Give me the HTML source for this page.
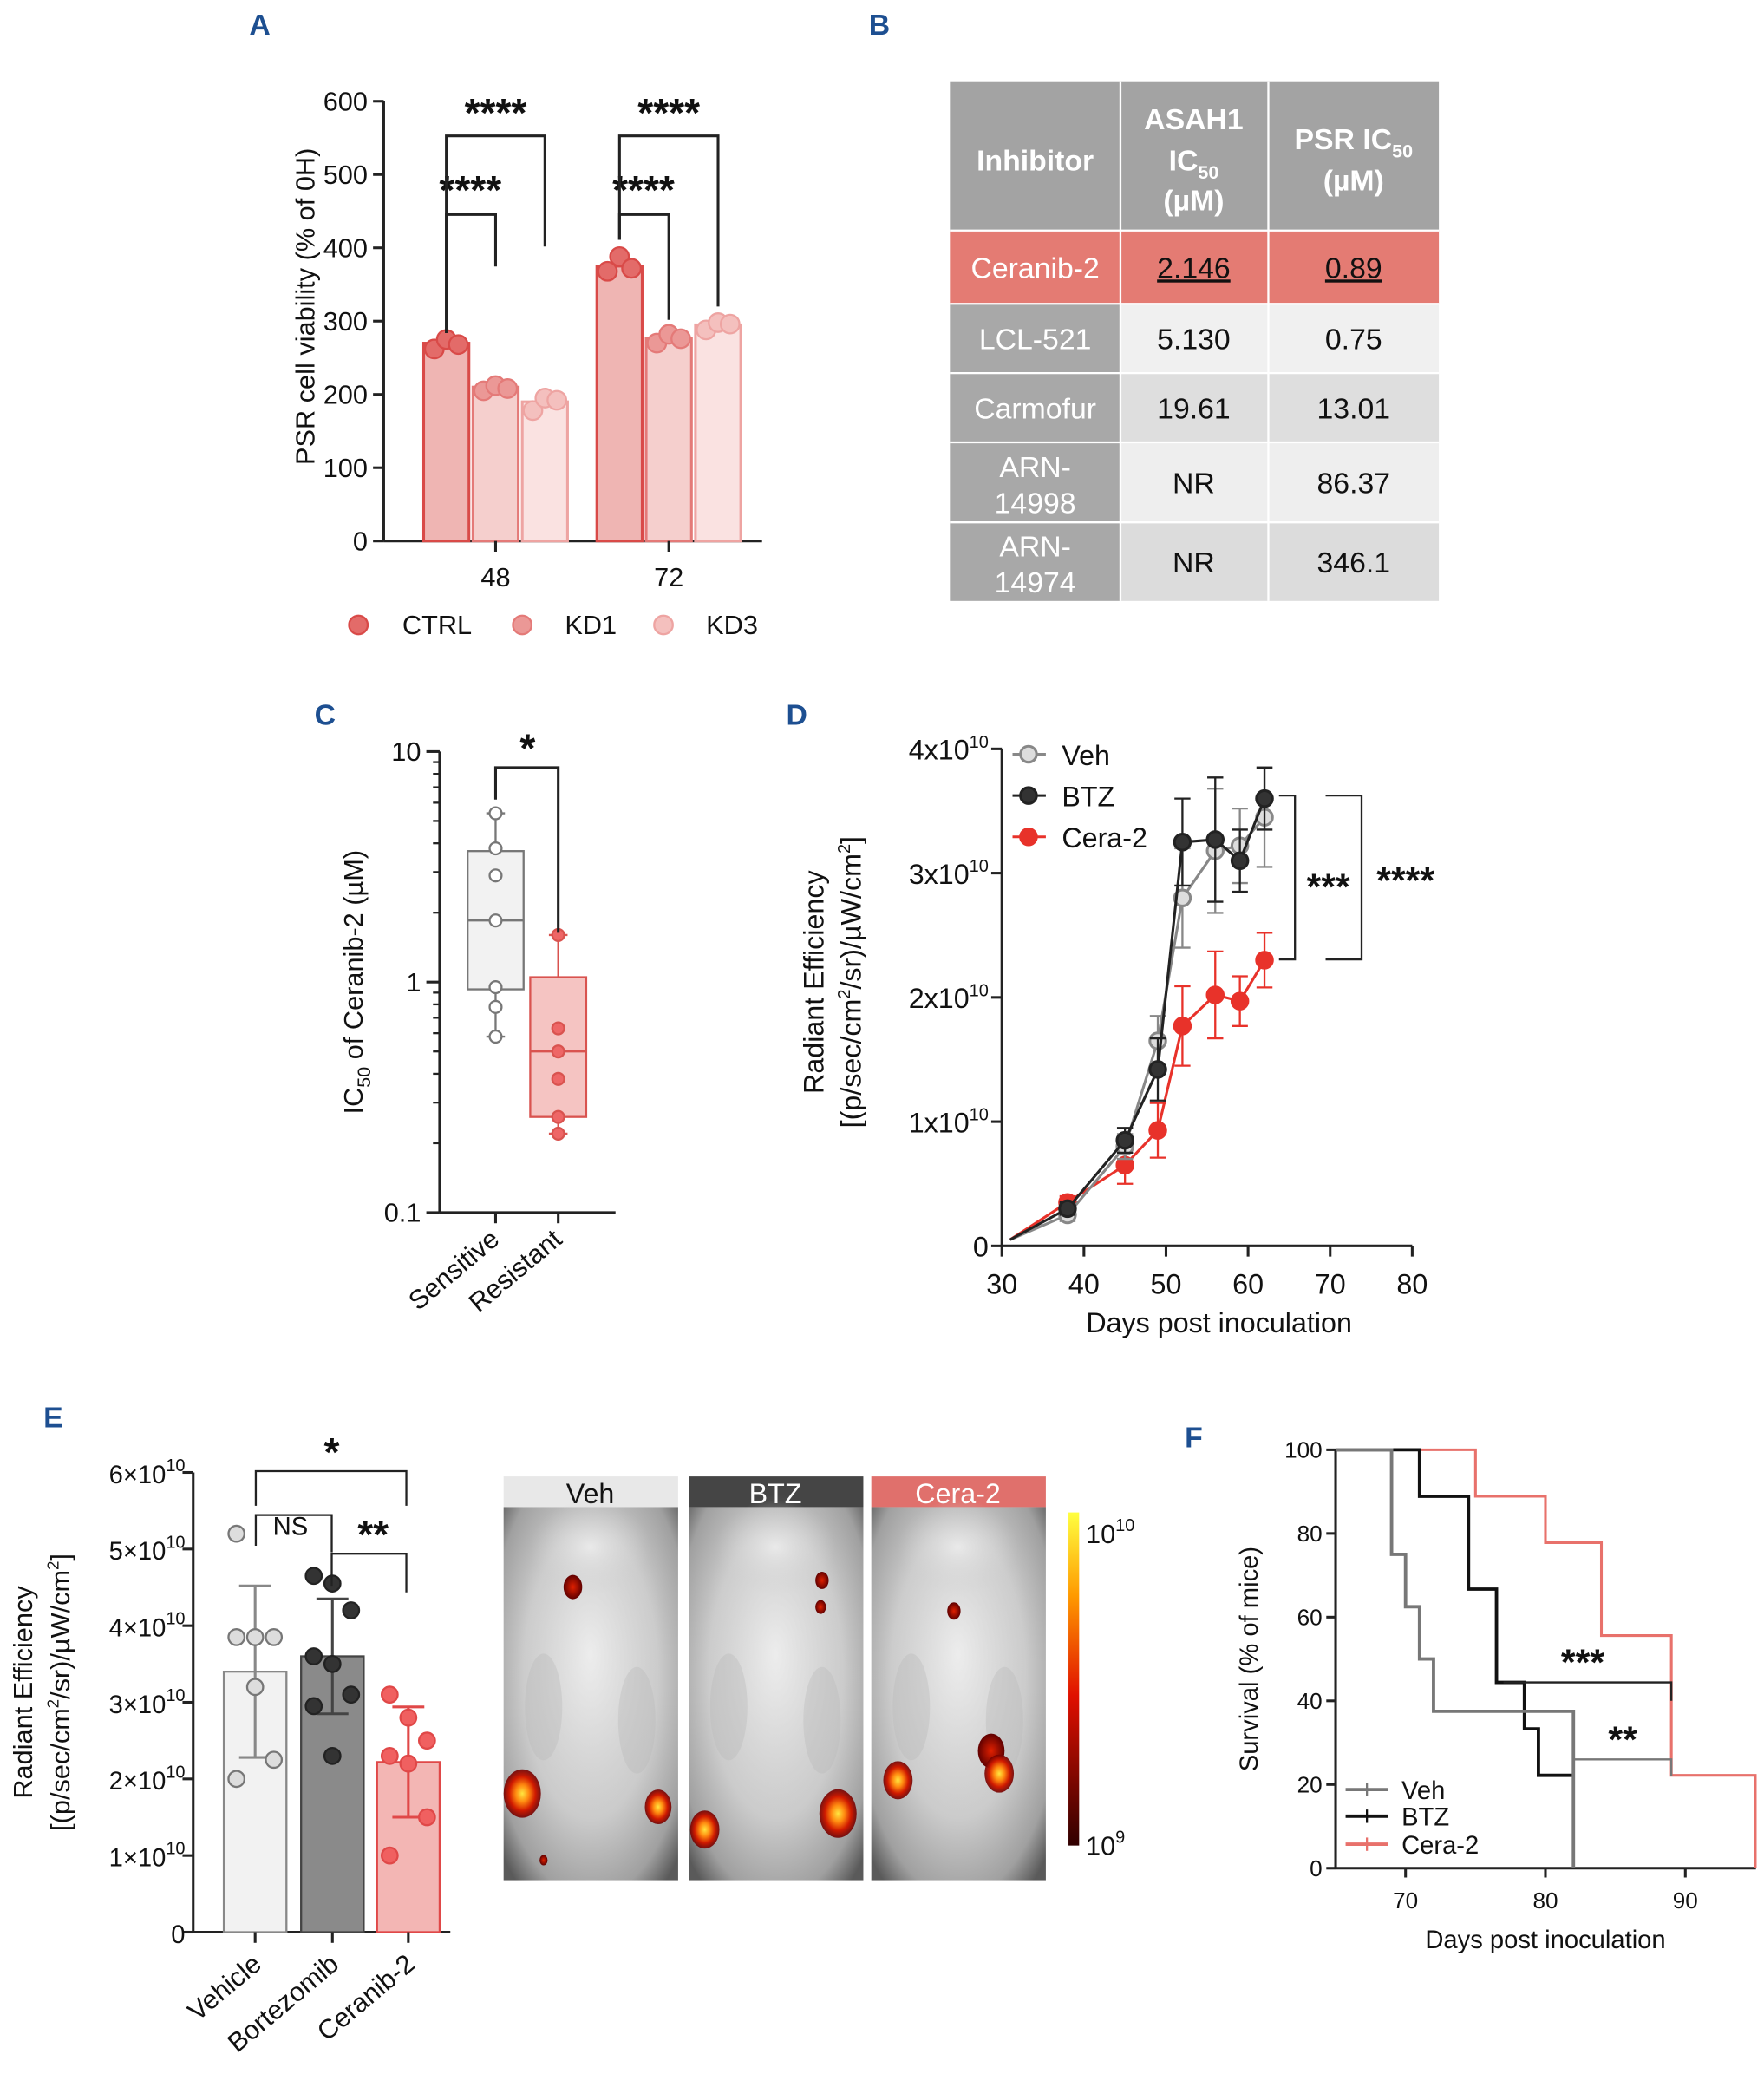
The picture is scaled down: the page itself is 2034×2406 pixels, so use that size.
<!DOCTYPE html>
<html><head><meta charset="utf-8">
<style>
html,body{margin:0;padding:0;background:#fff;width:2034px;height:2405px;overflow:hidden}
#wrap{position:absolute;left:0;top:0;width:1324px;height:1566px;transform:scale(1.5362);transform-origin:0 0;font-family:"Liberation Sans",Arial,sans-serif}
svg{position:absolute;left:0;top:0}
text{font-family:"Liberation Sans",Arial,sans-serif}
</style></head>
<body>
<div id="wrap">
<svg id="s" width="1324" height="1566" viewBox="0 0 1324 1566">
<defs>
<radialGradient id="mouse" cx="50%" cy="45%" r="70%"><stop offset="0" stop-color="#e2e2e2"/><stop offset="0.55" stop-color="#cbcbcb"/><stop offset="0.85" stop-color="#a0a0a0"/><stop offset="1" stop-color="#5a5a5a"/></radialGradient>
<radialGradient id="body"><stop offset="0" stop-color="#f0f0f0" stop-opacity="0.8"/><stop offset="1" stop-color="#d0d0d0" stop-opacity="0"/></radialGradient>
<radialGradient id="hot"><stop offset="0" stop-color="#ffe640"/><stop offset="0.35" stop-color="#ff8a10"/><stop offset="0.7" stop-color="#d01a00"/><stop offset="1" stop-color="#700000" stop-opacity="0.9"/></radialGradient>
<radialGradient id="warm"><stop offset="0" stop-color="#e02000"/><stop offset="1" stop-color="#600000"/></radialGradient>
<linearGradient id="cbar" x1="0" y1="0" x2="0" y2="1"><stop offset="0" stop-color="#ffff40"/><stop offset="0.25" stop-color="#ff9a00"/><stop offset="0.55" stop-color="#e01000"/><stop offset="1" stop-color="#300000"/></linearGradient>
</defs>
</svg>
</div>
<script>
// ---------- DATA ----------
const aGroups=["48","72"];
const aSeries=["CTRL","KD1","KD3"];
const aMeans=[[270,210,190],[375,277,295]];
const aPoints=[[[262,275,268],[205,212,208],[178,195,192]],[[368,388,372],[270,282,276],[288,298,296]]];
const aTicks=[0,100,200,300,400,500,600];

const cGroups=["Sensitive","Resistant"];
const cSens=[5.4,3.8,2.9,1.85,0.95,0.78,0.58];
const cRes=[1.6,0.63,0.5,0.38,0.26,0.22];
const cBox=[[0.58,0.93,1.85,3.7,5.4],[0.22,0.26,0.5,1.05,1.6]];
const cTicks=[0.1,1,10];

const dDays=[31,38,45,49,52,56,59,62];
const dVeh=[0.05,0.25,0.8,1.65,2.8,3.18,3.22,3.45];
const dVehErr=[0,0.05,0.1,0.2,0.4,0.5,0.3,0.4];
const dBtz=[0.05,0.3,0.85,1.42,3.25,3.27,3.1,3.6];
const dBtzErr=[0,0.05,0.1,0.25,0.35,0.5,0.25,0.25];
const dCera=[0.05,0.35,0.65,0.93,1.77,2.02,1.97,2.3];
const dCeraErr=[0,0.05,0.15,0.22,0.32,0.35,0.2,0.22];
const dXTicks=[30,40,50,60,70,80];
const dYTicks=[0,1,2,3,4];

const eGroups=["Vehicle","Bortezomib","Ceranib-2"];
const eMeans=[3.4,3.6,2.22];
const eSd=[1.12,0.75,0.72];
const ePoints=[[5.2,3.85,3.85,3.85,3.2,2.25,2.0],[4.65,4.55,4.2,3.6,3.5,3.1,2.95,2.3],[3.1,2.8,2.5,2.3,2.2,1.5,1.0]];
const eYTicks=[0,1,2,3,4,5,6];

const fXTicks=[70,80,90];
const fYTicks=[0,20,40,60,80,100];
const fVehT=[65,69,70,71,72,82];
const fVehS=[100,75,62.5,50,37.5,0];
const fBtzT=[65,71,74.5,76.5,78.5,79.5,82];
const fBtzS=[100,88.9,66.7,44.4,33.3,22.2,22.2];
const fCeraT=[65,75,80,84,89,95];
const fCeraS=[100,88.9,77.8,55.6,22.2,0];

// ---------- HELPERS ----------
const S=document.getElementById('s');
const NS='http://www.w3.org/2000/svg';
function mk(t,a,parent){const e=document.createElementNS(NS,t);for(const k in a)e.setAttribute(k,a[k]);(parent||S).appendChild(e);return e;}
function tag(e,n){
  
  
  return e;}
function txt(x,y,s,o){o=o||{};const e=mk('text',{x:x,y:y,'font-size':o.fs||20,'text-anchor':o.a||'middle',fill:o.fill||'#111','font-weight':o.fw||'normal'});if(o.tr)e.setAttribute('transform',o.tr);e.innerHTML=s;return e;}
function line(x1,y1,x2,y2,c,w){return mk('line',{x1:x1,y1:y1,x2:x2,y2:y2,stroke:c||'#222','stroke-width':w||2});}
function path(d,c,w,f){return mk('path',{d:d,stroke:c||'#222','stroke-width':w||2,fill:f||'none'});}
function sup(b,e,fs){return b+'<tspan dy="-9" font-size="'+(fs||13)+'">'+e+'</tspan>';}

// ---------- PANEL LETTERS ----------
[["A",195,26],["B",660,26],["C",244,544],["D",598,544],["E",40,1071],["F",896,1086]].forEach(l=>{
  const t=txt(l[1],l[2],l[0],{fs:22,fw:'bold',fill:'#1d4f91'});
  tag(t,'panel-label-'+l[0].toLowerCase());
});

// ---------- PANEL A ----------
{
 const ax0=288, y0=406, ppu=0.55;
 const ya=v=>y0-v*ppu;
 const barX=[[318,355,392],[448,485,522]], bw=34;
 const fills=['#efb5b3','#f5cfcd','#fae2e1'], strokes=['#d94a48','#e47a78','#eea4a2'], dots=['#e36b69','#eb9896','#f4c0be'];
 tag(line(ax0,76,ax0,y0),'a-y-axis');
 tag(line(ax0,y0,572,y0),'a-x-axis');
 aTicks.forEach(t=>{tag(line(ax0-8,ya(t),ax0,ya(t)),'a-y-tick');tag(txt(ax0-12,ya(t)+7,t,{a:'end'}),'a-y-tick-label');});
 tag(txt(236,230,'PSR cell viability (% of 0H)',{tr:'rotate(-90 236 230)'}),'a-y-axis-title');
 aGroups.forEach((g,gi)=>{
  aSeries.forEach((s,si)=>{
   const x=barX[gi][si];
   const b=mk('rect',{x:x,y:ya(aMeans[gi][si]),width:bw,height:aMeans[gi][si]*ppu,fill:fills[si],stroke:strokes[si],'stroke-width':2});
   tag(b,'a-bar-'+s.toLowerCase()+'-'+g);
   aPoints[gi][si].forEach((p,pi)=>{const c=mk('circle',{cx:x+8+pi*9,cy:ya(p),r:7,fill:dots[si],stroke:strokes[si],'stroke-width':1.5});tag(c,'a-point');});
  });
  tag(line(barX[gi][1]+17,y0,barX[gi][1]+17,y0+8),'a-x-tick');
  tag(txt(barX[gi][1]+17,y0+34,g),'a-x-tick-label');
 });
 tag(path('M335 250 V161 H372 V200'),'a-sig-bracket');tag(txt(353,153,'****',{fs:30,fw:'bold'}),'a-sig-stars');
 tag(path('M335 250 V102 H409 V185'),'a-sig-bracket');tag(txt(372,95,'****',{fs:30,fw:'bold'}),'a-sig-stars');
 tag(path('M465 180 V161 H502 V240'),'a-sig-bracket');tag(txt(483,153,'****',{fs:30,fw:'bold'}),'a-sig-stars');
 tag(path('M465 180 V102 H539 V230'),'a-sig-bracket');tag(txt(502,95,'****',{fs:30,fw:'bold'}),'a-sig-stars');
 [[269,302],[392,424],[498,530]].forEach((l,i)=>{
  tag(mk('circle',{cx:l[0],cy:469,r:7,fill:dots[i],stroke:strokes[i],'stroke-width':1.5}),'a-legend-marker-'+aSeries[i].toLowerCase());
  tag(txt(l[1],476,aSeries[i],{a:'start'}),'a-legend-label-'+aSeries[i].toLowerCase());
 });
}

// ---------- PANEL B (table) ----------
{
 const rows=[61,173,228,280,332,392,451];
 const data=[["Ceranib-2","<tspan text-decoration='underline'>2.146</tspan>","<tspan text-decoration='underline'>0.89</tspan>"],["LCL-521","5.130","0.75"],["Carmofur","19.61","13.01"],["ARN-|14998","NR","86.37"],["ARN-|14974","NR","346.1"]];
 const bgs=['#f0f0f0','#dedede','#eeeeee','#dcdcdc'];
 tag(mk('rect',{x:713,y:61,width:367,height:112,fill:'#a3a3a3'}),'b-table-header');
 tag(txt(777,128,'Inhibitor',{fill:'#fff',fw:'bold',fs:22}),'b-header-inhibitor');
 tag(txt(896,97,'ASAH1',{fill:'#fff',fw:'bold',fs:22}),'b-header-asah1');
 tag(txt(896,128,'IC<tspan font-size="14" dy="6">50</tspan>',{fill:'#fff',fw:'bold',fs:22}),'b-header-asah1-ic50');
 tag(txt(896,158,'(µM)',{fill:'#fff',fw:'bold',fs:22}),'b-header-asah1-unit');
 tag(txt(1016,112,'PSR IC<tspan font-size="14" dy="6">50</tspan>',{fill:'#fff',fw:'bold',fs:22}),'b-header-psr');
 tag(txt(1016,143,'(µM)',{fill:'#fff',fw:'bold',fs:22}),'b-header-psr-unit');
 data.forEach((r,i)=>{
  const y1=rows[i+1],y2=rows[i+2],ym=(y1+y2)/2;
  if(i===0){tag(mk('rect',{x:713,y:y1,width:367,height:y2-y1,fill:'#e47b73'}),'b-row-highlight');}
  else{
   tag(mk('rect',{x:713,y:y1,width:128,height:y2-y1,fill:'#a8a8a8'}),'b-row-name-cell');
   tag(mk('rect',{x:841,y:y1,width:239,height:y2-y1,fill:bgs[i-1]}),'b-row-value-cell');
  }
  const nm=r[0].split('|');
  if(nm.length===1) tag(txt(777,ym+8,nm[0],{fill:'#fff',fs:22}),'b-inhibitor-name');
  else {tag(txt(777,ym-4,nm[0],{fill:'#fff',fs:22}),'b-inhibitor-name');tag(txt(777,ym+23,nm[1],{fill:'#fff',fs:22}),'b-inhibitor-name');}
  tag(txt(896,ym+8,r[1],{fs:22}),'b-asah1-value');
  tag(txt(1016,ym+8,r[2],{fs:22}),'b-psr-value');
 });
 for(let i=1;i<rows.length-1;i++) tag(line(713,rows[i],1080,rows[i],'#fff',1.5),'b-row-divider');
 tag(line(841,61,841,451,'#fff',1.5),'b-col-divider');tag(line(952,61,952,451,'#fff',1.5),'b-col-divider');
}

// ---------- PANEL C ----------
{
 const ax0=330,yTop=564,yBot=910;
 const yc=v=>yBot-(Math.log10(v)+1)/2*(yBot-yTop);
 tag(line(ax0,yTop,ax0,yBot),'c-y-axis');tag(line(ax0,yBot,462,yBot),'c-x-axis');
 cTicks.forEach(t=>{tag(line(ax0-10,yc(t),ax0,yc(t)),'c-y-tick');tag(txt(ax0-14,yc(t)+7,t,{a:'end'}),'c-y-tick-label');});
 [2,3,4,5,6,7,8,9,20,30,40,50,60,70,80,90].forEach(m=>{const v=m/10;tag(line(ax0-5,yc(v),ax0,yc(v),'#222',1.5),'c-minor-tick');});
 tag(txt(272,737,'IC<tspan font-size="14" dy="6">50</tspan><tspan dy="-6"> of Ceranib-2 (µM)</tspan>',{tr:'rotate(-90 272 737)'}),'c-y-axis-title');
 const cx=[372,419], cols=[['#f2f2f2','#777','#fff'],['#f5c4c2','#d9534f','#e66']];
 const pts=[cSens,cRes];
 cGroups.forEach((g,i)=>{
  const b=cBox[i],x=cx[i];
  tag(line(x,yc(b[0]),x,yc(b[4]),cols[i][1],1.5),'c-whisker');
  tag(line(x-7,yc(b[0]),x+7,yc(b[0]),cols[i][1],1.5),'c-whisker-cap');
  tag(line(x-7,yc(b[4]),x+7,yc(b[4]),cols[i][1],1.5),'c-whisker-cap');
  tag(mk('rect',{x:x-21,y:yc(b[3]),width:42,height:yc(b[1])-yc(b[3]),fill:cols[i][0],stroke:cols[i][1],'stroke-width':1.5}),'c-box-'+g.toLowerCase());
  tag(line(x-21,yc(b[2]),x+21,yc(b[2]),cols[i][1],1.5),'c-median');
  pts[i].forEach(p=>tag(mk('circle',{cx:x,cy:yc(p),r:4.5,fill:cols[i][2],stroke:cols[i][1],'stroke-width':1.5}),'c-point'));
  tag(line(x,yBot,x,yBot+8),'c-x-tick');
  tag(txt(x+4,yBot+22,g,{a:'end',tr:'rotate(-40 '+(x+4)+' '+(yBot+22)+')'}),'c-x-tick-label');
 });
 tag(path('M372 600 V576 H419 V700'),'c-sig-bracket');tag(txt(396,572,'*',{fs:30,fw:'bold'}),'c-sig-star');
}

// ---------- PANEL D ----------
{
 const x0=752,xs=6.16,y0=935,ys=93.25;
 const xd=d=>x0+(d-30)*xs, yd=v=>y0-v*ys;
 tag(line(x0,562,x0,y0),'d-y-axis');tag(line(x0,y0,1060,y0),'d-x-axis');
 dYTicks.forEach(t=>{tag(line(x0-8,yd(t),x0,yd(t)),'d-y-tick');tag(txt(x0-10,yd(t)+8,t===0?'0':sup(t+'x10','10'),{a:'end',fs:21}),'d-y-tick-label');});
 dXTicks.forEach(t=>{tag(line(xd(t),y0,xd(t),y0+8),'d-x-tick');tag(txt(xd(t),y0+36,t,{fs:21}),'d-x-tick-label');});
 tag(txt(915,1000,'Days post inoculation',{fs:21}),'d-x-axis-title');
 tag(txt(618,737,'Radiant Efficiency',{fs:21,tr:'rotate(-90 618 737)'}),'d-y-axis-title');
 tag(txt(646,737,'[(p/sec/cm<tspan dy="-8" font-size="13">2</tspan><tspan dy="8">/sr)/µW/cm</tspan><tspan dy="-8" font-size="13">2</tspan><tspan dy="8">]</tspan>',{fs:21,tr:'rotate(-90 646 737)'}),'d-y-axis-title-units');
 const ser=[[dCera,dCeraErr,'#e8322a','#e8322a','cera'],[dVeh,dVehErr,'#888','#ddd','veh'],[dBtz,dBtzErr,'#222','#333','btz']];
 ser.forEach(s=>{
  s[0].forEach((v,i)=>{if(s[1][i]>0){const x=xd(dDays[i]);tag(line(x,yd(v-s[1][i]),x,yd(v+s[1][i]),s[2],1.5),'d-error-bar');tag(line(x-6,yd(v+s[1][i]),x+6,yd(v+s[1][i]),s[2],1.5),'d-error-cap');tag(line(x-6,yd(v-s[1][i]),x+6,yd(v-s[1][i]),s[2],1.5),'d-error-cap');}});
  tag(path(s[0].map((v,i)=>(i?'L':'M')+xd(dDays[i])+' '+yd(v)).join(' '),s[2],2),'d-line-'+s[4]);
  s[0].forEach((v,i)=>{if(i>0)tag(mk('circle',{cx:xd(dDays[i]),cy:yd(v),r:6,fill:s[3],stroke:s[2],'stroke-width':2}),'d-point-'+s[4]);});
 });
 [['Veh',566,'#888','#ddd'],['BTZ',597,'#222','#333'],['Cera-2',628,'#e8322a','#e8322a']].forEach(l=>{
  tag(line(760,l[1],785,l[1],l[2],2),'d-legend-line');
  tag(mk('circle',{cx:772,cy:l[1],r:6,fill:l[3],stroke:l[2],'stroke-width':2}),'d-legend-marker');
  tag(txt(797,l[1]+8,l[0],{a:'start',fs:21}),'d-legend-label-'+l[0].toLowerCase());
 });
 tag(path('M960 597 H972 V720 H960',"#222",1.5),'d-sig-bracket');tag(txt(997,675,'***',{fs:28,fw:'bold'}),'d-sig-stars');
 tag(path('M995 597 H1022 V720 H995',"#222",1.5),'d-sig-bracket');tag(txt(1055,670,'****',{fs:28,fw:'bold'}),'d-sig-stars');
}

// ---------- PANEL E ----------
{
 const x0=145,y0=1450,ys=57.5;
 const ye=v=>y0-v*ys;
 tag(line(x0,1105,x0,y0),'e-y-axis');tag(line(x0,y0,338,y0),'e-x-axis');
 eYTicks.forEach(t=>{tag(line(x0-8,ye(t),x0,ye(t)),'e-y-tick');tag(txt(x0-6,ye(t)+8,t===0?'0':sup(t+'×10','10'),{a:'end',fs:19}),'e-y-tick-label');});
 tag(txt(24,1270,'Radiant Efficiency',{fs:20,tr:'rotate(-90 24 1270)'}),'e-y-axis-title');
 tag(txt(52,1270,'[(p/sec/cm<tspan dy="-8" font-size="12">2</tspan><tspan dy="8">/sr)/µW/cm</tspan><tspan dy="-8" font-size="12">2</tspan><tspan dy="8">]</tspan>',{fs:20,tr:'rotate(-90 52 1270)'}),'e-y-axis-title-units');
 const bx=[168,226,283],bw=47;
 const st=[['#f2f2f2','#888','#ddd','#777'],['#8a8a8a','#444','#333','#222'],['#f3b6b4','#e04848','#f06060','#e04848']];
 eGroups.forEach((g,i)=>{
  const cx=bx[i]+bw/2;
  tag(mk('rect',{x:bx[i],y:ye(eMeans[i]),width:bw,height:eMeans[i]*ys,fill:st[i][0],stroke:st[i][1],'stroke-width':1.5}),'e-bar-'+g.toLowerCase());
  tag(line(cx,ye(eMeans[i]-eSd[i]),cx,ye(eMeans[i]+eSd[i]),st[i][1],2),'e-error-bar');
  tag(line(cx-12,ye(eMeans[i]+eSd[i]),cx+12,ye(eMeans[i]+eSd[i]),st[i][1],2),'e-error-cap');
  tag(line(cx-12,ye(eMeans[i]-eSd[i]),cx+12,ye(eMeans[i]-eSd[i]),st[i][1],2),'e-error-cap');
  ePoints[i].forEach((p,pi)=>{const dx=((pi%3)-1)*14;tag(mk('circle',{cx:cx+dx,cy:ye(p),r:6,fill:st[i][2],stroke:st[i][3],'stroke-width':1.5}),'e-point');});
  tag(line(cx,y0,cx,y0+8),'e-x-tick');
  tag(txt(cx+6,y0+26,g,{a:'end',fs:20,tr:'rotate(-40 '+(cx+6)+' '+(y0+26)+')'}),'e-x-tick-label');
 });
 tag(path('M192 1130 V1104 H305 V1130',"#222",1.5),'e-sig-bracket');tag(txt(249,1100,'*',{fs:30,fw:'bold'}),'e-sig-star');
 tag(path('M192 1160 V1137 H249 V1165',"#222",1.5),'e-sig-bracket');tag(txt(218,1152,'NS',{fs:19}),'e-sig-ns');
 tag(path('M249 1190 V1166 H305 V1195',"#222",1.5),'e-sig-bracket');tag(txt(280,1162,'**',{fs:30,fw:'bold'}),'e-sig-stars');
 const panels=[[378,'Veh','#e8e8e8','#111'],[517,'BTZ','#454545','#fff'],[654,'Cera-2','#e0706c','#fff']];
 const spots=[[[52,60,7,'warm'],[14,215,14,'hot'],[116,225,10,'hot'],[30,265,3,'warm']],[[100,55,5,'warm'],[99,75,4,'warm'],[12,242,11,'hot'],[112,230,14,'hot']],[[62,78,5,'warm'],[90,183,10,'warm'],[20,205,11,'hot'],[96,200,11,'hot']]];
 panels.forEach((p,i)=>{
  tag(mk('rect',{x:p[0],y:1108,width:131,height:23,fill:p[2]}),'e-image-header');
  tag(txt(p[0]+65,1128,p[1],{fs:21,fill:p[3]}),'e-image-label');
  tag(mk('rect',{x:p[0],y:1131,width:131,height:280,fill:'url(#mouse)'}),'e-mouse-image-'+p[1].toLowerCase());
  tag(mk('ellipse',{cx:p[0]+65,cy:1131+110,rx:55,ry:120,fill:'url(#body)'}),'e-mouse-body');
  tag(mk('ellipse',{cx:p[0]+65,cy:1131+30,rx:45,ry:35,fill:'url(#body)'}),'e-mouse-head');
  tag(mk('ellipse',{cx:p[0]+30,cy:1131+150,rx:14,ry:40,fill:'#b8b8b8','fill-opacity':0.35}),'e-mouse-texture');
  tag(mk('ellipse',{cx:p[0]+100,cy:1131+160,rx:14,ry:40,fill:'#b8b8b8','fill-opacity':0.35}),'e-mouse-texture');
  spots[i].forEach(s=>tag(mk('ellipse',{cx:p[0]+s[0],cy:1131+s[1],rx:s[2],ry:s[2]*1.3,fill:'url(#'+s[3]+')'}),'e-signal-spot'));
 });
 tag(mk('rect',{x:802,y:1135,width:8,height:250,fill:'url(#cbar)'}),'e-colorbar');
 tag(txt(815,1158,sup('10','10',13),{a:'start',fs:20}),'e-colorbar-max');
 tag(txt(815,1392,sup('10','9',13),{a:'start',fs:20}),'e-colorbar-min');
}

// ---------- PANEL F ----------
{
 const x0=1002.5,xs=10.5,y0=1402,ys=3.14;
 const xf=d=>x0+(d-65)*xs, yf=v=>y0-v*ys;
 tag(line(x0,1088,x0,y0),'f-y-axis');tag(line(x0,y0,1318,y0),'f-x-axis');
 fYTicks.forEach(t=>{tag(line(x0-7,yf(t),x0,yf(t)),'f-y-tick');tag(txt(x0-10,yf(t)+6,t,{a:'end',fs:17}),'f-y-tick-label');});
 fXTicks.forEach(t=>{tag(line(xf(t),y0,xf(t),y0+7),'f-x-tick');tag(txt(xf(t),y0+30,t,{fs:17}),'f-x-tick-label');});
 tag(txt(1160,1462,'Days post inoculation',{fs:19}),'f-x-axis-title');
 tag(txt(944,1245,'Survival (% of mice)',{fs:19,tr:'rotate(-90 944 1245)'}),'f-y-axis-title');
 function step(T,Sv,end){let d='M'+xf(T[0])+' '+yf(Sv[0]);for(let i=1;i<T.length;i++){d+=' H'+xf(T[i])+' V'+yf(Sv[i]);}if(end)d+=' H'+xf(end);return d;}
 tag(path(step(fCeraT,fCeraS),'#e8716b',2),'f-curve-cera');
 tag(path(step(fBtzT,fBtzS),'#111',2.5),'f-curve-btz');
 tag(path(step(fVehT,fVehS),'#777',2.5),'f-curve-veh');
 tag(path('M'+xf(77)+' '+yf(44.4)+' H'+xf(89)+' V'+yf(40),'#222',1.5),'f-sig-bracket');
 tag(txt(1188,1257,'***',{fs:28,fw:'bold'}),'f-sig-stars');
 tag(path('M'+xf(82)+' '+yf(26)+' H'+xf(89)+' V'+yf(22),'#777',1.5),'f-sig-bracket');
 tag(txt(1218,1315,'**',{fs:28,fw:'bold'}),'f-sig-stars');
 [['Veh',1343,'#777'],['BTZ',1363,'#111'],['Cera-2',1384,'#e8716b']].forEach(l=>{
  tag(line(1010,l[1],1042,l[1],l[2],2.5),'f-legend-line');
  tag(line(1026,l[1]-5,1026,l[1]+5,l[2],1.5),'f-legend-tick');
  tag(txt(1052,l[1]+7,l[0],{a:'start',fs:19}),'f-legend-label-'+l[0].toLowerCase());
 });
}
</script>
</body></html>
